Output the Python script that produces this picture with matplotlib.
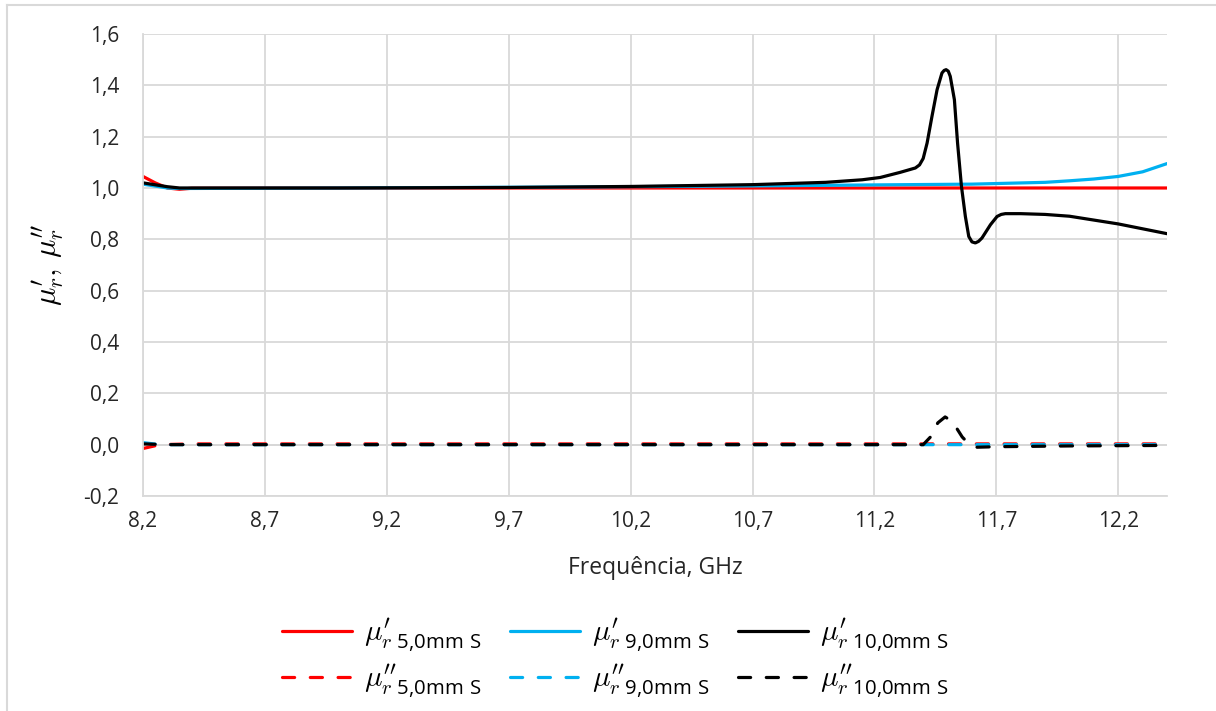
import matplotlib.pyplot as plt
from matplotlib.lines import Line2D
from matplotlib.ticker import FuncFormatter

plt.rcParams['font.family'] = ['Open Sans', 'DejaVu Sans']
plt.rcParams['mathtext.fontset'] = 'cm'

# mu' (real part) for the three samples
f_red = [8.2, 8.25, 8.3, 8.35, 8.4, 9.0, 10.0, 11.0, 12.0, 12.4]
mu1_red = [1.045, 1.02, 1.0, 0.995, 0.999, 1.0, 1.0, 1.0, 1.0, 1.0]

f_blue = [8.2, 8.3, 8.35, 9.0, 10.0, 10.7, 11.2, 11.6, 11.9, 12.0, 12.1, 12.2, 12.3, 12.4]
mu1_blue = [1.015, 1.0, 0.998, 1.0, 1.004, 1.008, 1.012, 1.015, 1.022, 1.028,
            1.035, 1.045, 1.063, 1.095]

f_black = [8.2, 8.3, 8.35, 9.0, 9.7, 10.2, 10.7, 11.0, 11.15, 11.224, 11.306, 11.368,
           11.385, 11.4, 11.416, 11.436, 11.457, 11.477, 11.486, 11.494, 11.503,
           11.511, 11.528, 11.541, 11.557, 11.573, 11.587, 11.6, 11.614, 11.627,
           11.641, 11.676, 11.703, 11.72, 11.737, 11.8, 11.9, 12.0, 12.1, 12.2,
           12.3, 12.4]
mu1_black = [1.02, 1.005, 1.0, 1.0, 1.002, 1.006, 1.013, 1.022, 1.032, 1.041, 1.061,
             1.078, 1.09, 1.115, 1.175, 1.279, 1.383, 1.448, 1.458, 1.461, 1.455,
             1.435, 1.344, 1.175, 1.006, 0.889, 0.811, 0.79, 0.786, 0.792, 0.805,
             0.857, 0.889, 0.897, 0.90, 0.90, 0.897, 0.89, 0.875, 0.86, 0.841, 0.822]

# mu'' (imaginary part)
f2_red = [8.2, 8.27, 8.4, 10.0, 12.4]
mu2_red = [-0.015, 0.0, 0.003, 0.003, 0.003]

f2_blue = [8.2, 8.27, 8.4, 10.0, 12.4]
mu2_blue = [0.008, 0.0, 0.0, 0.0, 0.0]

f2_black = [8.2, 8.3, 11.3, 11.4, 11.43, 11.46, 11.49, 11.52, 11.56, 11.59, 11.62,
            11.7, 12.0, 12.4]
mu2_black = [0.003, 0.0, 0.0, 0.0, 0.03, 0.085, 0.108, 0.09, 0.03, 0.0, -0.01,
             -0.008, -0.005, -0.003]

labels = ['5{,}0mm\\ S', '9{,}0mm\\ S', '10{,}0mm\\ S']
colors = ['#ff0000', '#00b0f0', '#000000']

xticks = [8.2, 8.7, 9.2, 9.7, 10.2, 10.7, 11.2, 11.7, 12.2]
yticks = [-0.2, 0.0, 0.2, 0.4, 0.6, 0.8, 1.0, 1.2, 1.4, 1.6]

fig = plt.figure(figsize=(12.16, 7.11), dpi=100)
ax = fig.add_axes([0.1176, 0.3024, 0.8421, 0.6498])

lw = 2.3
solid = []
for f, m, c in zip([f_red, f_blue, f_black], [mu1_red, mu1_blue, mu1_black], colors):
    h, = ax.plot(f, m, color=c, lw=lw, solid_capstyle='round', solid_joinstyle='round')
    solid.append(h)
dashed = []
for f, m, c in zip([f2_red, f2_blue, f2_black], [mu2_red, mu2_blue, mu2_black], colors):
    h, = ax.plot(f, m, color=c, lw=lw, dashes=(3.8, 4.9), dash_capstyle='round')
    dashed.append(h)

ax.set_xlim(8.2, 12.4)
ax.set_ylim(-0.2, 1.6)
ax.set_xticks(xticks)
ax.set_yticks(yticks)
fmt = FuncFormatter(lambda v, p: f'{v:.1f}'.replace('.', ',').replace('-0,0', '0,0'))
ax.xaxis.set_major_formatter(fmt)
ax.yaxis.set_major_formatter(fmt)
ax.tick_params(length=0, labelsize=15, colors='#262626')
ax.tick_params(axis='y', pad=17)
ax.tick_params(axis='x', pad=11)
ax.grid(True, color='#d9d9d9', lw=1.3)
ax.set_axisbelow(True)
for s in ['top', 'right']:
    ax.spines[s].set_visible(False)
for s in ['left', 'bottom']:
    ax.spines[s].set_color('#d9d9d9')
    ax.spines[s].set_linewidth(1.3)
ax.axhline(0, color='#bfbfbf', lw=1.3, zorder=0.5)

ax.set_xlabel('Frequência, GHz', fontsize=16.5, color='#262626', labelpad=17)
ax.set_ylabel(r"$\mu^{\prime}_{r},\, \mu^{\prime\prime}_{r}$", fontsize=22, labelpad=12)

handles = []
names = []
for i in range(3):
    handles += [solid[i], dashed[i]]
    names += [r"$\mu^{\prime}_{r\ \mathregular{" + labels[i] + "}}$",
              r"$\mu^{\prime\prime}_{r\ \mathregular{" + labels[i] + "}}$"]
fig.legend(handles, names, loc='center', bbox_to_anchor=(0.506, 0.0745), ncol=3,
           frameon=False, fontsize=21, handlelength=2.4, columnspacing=1.0,
           labelspacing=0.3, handletextpad=0.4)

# chart frame
fig.add_artist(Line2D([7 / 1216, 1.0], [1 - 5 / 711, 1 - 5 / 711], color='#d9d9d9', lw=1.5))
fig.add_artist(Line2D([7 / 1216, 7 / 1216], [0.0, 1 - 5 / 711], color='#d9d9d9', lw=1.5))

fig.savefig('out.png', dpi=100)
